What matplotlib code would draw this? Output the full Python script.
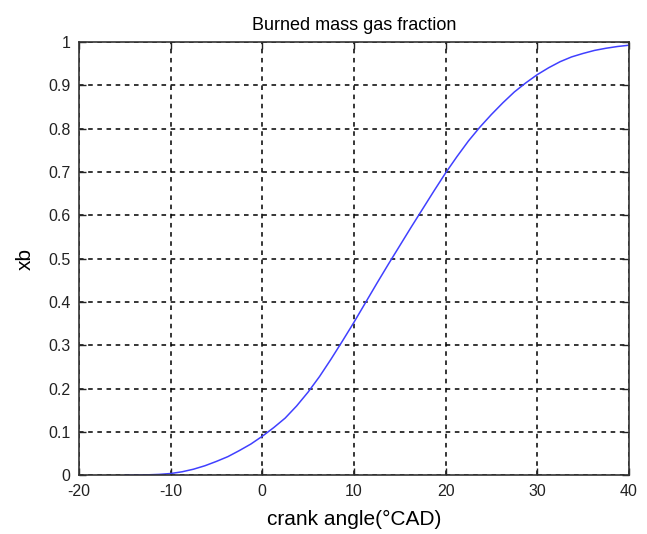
import matplotlib.pyplot as plt

plt.rcParams['font.family'] = ['Liberation Sans', 'DejaVu Sans']
plt.rcParams['axes.unicode_minus'] = False

# crank angle (°CAD) and burned mass fraction
crank_angle = [-15, -13.75, -12.5, -11.25, -10, -8.75, -7.5, -6.25, -5, -3.75,
               -2.5, -1.25, 0, 1.25, 2.5, 3.75, 5, 6.25, 7.5, 8.75, 10, 11.25,
               12.5, 13.75, 15, 16.25, 17.5, 18.75, 20, 21.25, 22.5, 23.75, 25,
               26.25, 27.5, 28.75, 30, 31.25, 32.5, 33.75, 35, 36.25, 37.5,
               38.75, 40]
xb = [0.000, 0.0003, 0.001, 0.002, 0.004, 0.008, 0.014, 0.022, 0.032, 0.043,
      0.057, 0.072, 0.090, 0.110, 0.132, 0.160, 0.192, 0.228, 0.268, 0.310,
      0.353, 0.398, 0.443, 0.487, 0.530, 0.573, 0.615, 0.657, 0.698, 0.736,
      0.772, 0.804, 0.833, 0.860, 0.885, 0.906, 0.925, 0.941, 0.955, 0.966,
      0.974, 0.981, 0.986, 0.990, 0.993]

x_ticks = [-20, -10, 0, 10, 20, 30, 40]
y_ticks = [0, 0.1, 0.2, 0.3, 0.4, 0.5, 0.6, 0.7, 0.8, 0.9, 1]
y_labels = ['0', '0.1', '0.2', '0.3', '0.4', '0.5', '0.6', '0.7', '0.8', '0.9', '1']

fig = plt.figure(figsize=(6.47, 5.34), dpi=100)
ax = fig.add_axes([0.122, 0.110, 0.850, 0.811])

ax.plot(crank_angle, xb, color='#4040ff', linewidth=1.1)

ax.set_xlim(-20, 40)
ax.set_ylim(0, 1)
ax.set_xticks(x_ticks)
ax.set_yticks(y_ticks)
ax.set_yticklabels(y_labels)
ax.tick_params(direction='in', top=True, right=True, labelsize=11.5,
               length=5, width=1, colors='#222222', pad=6)
for s in ax.spines.values():
    s.set_linewidth(1.2)
    s.set_color('#333333')

ax.grid(True, color='black', linestyle=(0, (3, 3)), linewidth=1.1)

ax.set_title('Burned mass gas fraction', fontsize=13, pad=9)
ax.set_xlabel('crank angle(°CAD)', fontsize=15, labelpad=8)
ax.set_ylabel('xb', fontsize=15, labelpad=10)

fig.savefig('out.png', dpi=100)
